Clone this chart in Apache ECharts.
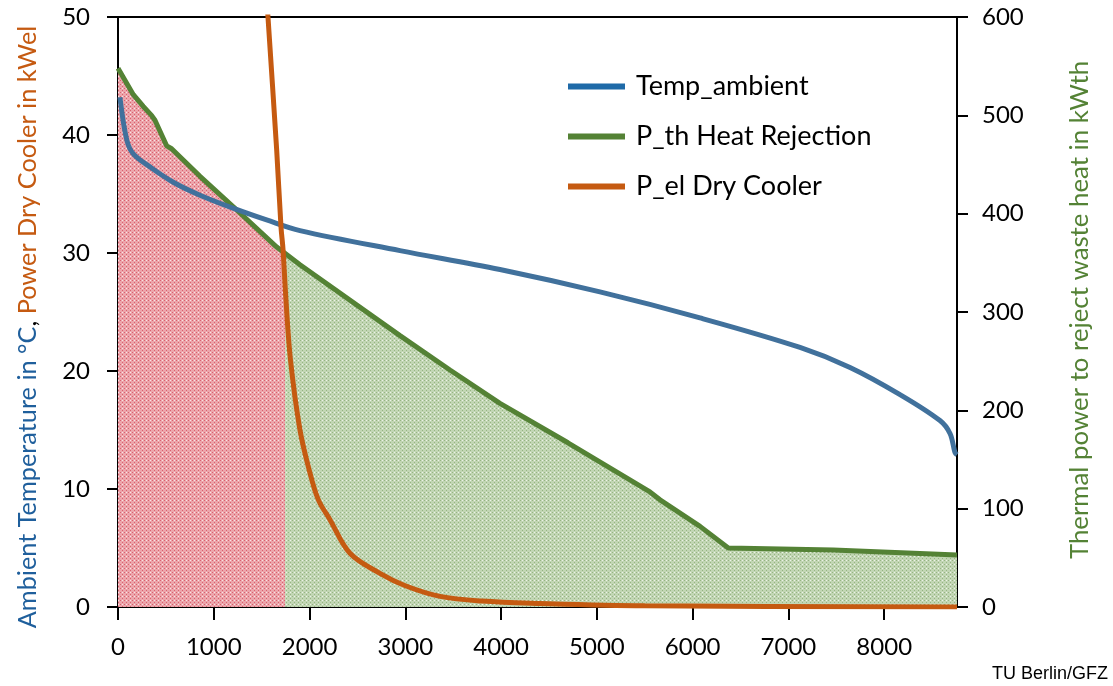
<!DOCTYPE html>
<html>
<head>
<meta charset="utf-8">
<script src="https://cdn.jsdelivr.net/npm/echarts@6/dist/echarts.min.js"></script>
<style>
  html, body { margin: 0; padding: 0; background: #fff; }
  #chart { width: 1113px; height: 686px; }
</style>
</head>
<body>
<div id="chart"></div>
<script>
// hours of the year
var xTicks = [0, 1000, 2000, 3000, 4000, 5000, 6000, 7000, 8000];

// ambient temperature, degC (left axis)
var tempHours = [20, 91, 160, 334, 577, 856, 1201, 1552, 1900, 2944, 3988, 5032, 6077, 7121, 7643, 8165, 8582, 8687, 8739, 8760];
var tempValues = [43.2, 39.6, 38.4, 37.3, 36.0, 34.9, 33.8, 32.8, 31.9, 30.2, 28.6, 26.7, 24.5, 22.0, 20.3, 18.0, 15.8, 14.7, 13.1, 12.9];

// thermal power heat rejection, kWth (right axis)
var pthHours = [0, 160, 264, 350, 386, 508, 560, 856, 1204, 1657, 1900, 2944, 3466, 3988, 4698, 5554, 5659, 6077, 6372, 7468, 8760];
var pthValues = [548, 521, 509, 500, 495, 469, 466, 438, 407, 366, 348, 276, 241, 207, 167, 117, 109, 82, 60, 58, 53];

// electric power dry cooler, kWel (left axis)
var pelHours = [1480, 1566, 1657, 1702, 1723, 1754, 1800, 1900, 2000, 2091, 2213, 2422, 2735, 3000, 3362, 3800, 4406, 5500, 8760];
var pelValues = [61, 50, 38.7, 32.2, 30.3, 26, 21, 15, 11.5, 9.1, 7.4, 4.55, 2.85, 1.8, 0.9, 0.5, 0.3, 0.1, 0];

// where the shading switches from red to green
var splitHour = 1745;
var splitValue = 359;

function pairs(xs, ys) {
    var out = [];
    for (var i = 0; i < xs.length; i++) {
        out.push([xs[i], ys[i]]);
    }
    return out;
}

function hatch(base, dot) {
    var c = document.createElement('canvas');
    c.width = 4; c.height = 4;
    var ctx = c.getContext('2d');
    ctx.fillStyle = base;
    ctx.fillRect(0, 0, 4, 4);
    ctx.fillStyle = dot;
    ctx.fillRect(0, 0, 1, 1);
    ctx.fillRect(2, 2, 1, 1);
    ctx.fillStyle = 'rgba(255,255,255,0.7)';
    ctx.fillRect(2, 0, 1, 1);
    return { image: c, repeat: 'repeat' };
}

var redPart = [];
var greenPart = [[splitHour, splitValue]];
for (var i = 0; i < pthHours.length; i++) {
    if (pthHours[i] < splitHour) redPart.push([pthHours[i], pthValues[i]]);
    else greenPart.push([pthHours[i], pthValues[i]]);
}
redPart.push([splitHour, splitValue]);

var font = 'Lato';
var chart = echarts.init(document.getElementById('chart'));
var option = {
    animation: false,
    backgroundColor: '#ffffff',
    textStyle: { fontFamily: font },
    grid: {
        left: 118, right: 156, top: 17, bottom: 79,
        show: true, borderColor: '#000', borderWidth: 2
    },
    legend: {
        orient: 'vertical',
        left: 563, top: 68,
        itemGap: 23,
        itemWidth: 57, itemHeight: 6,
        icon: 'rect',
        textStyle: { fontSize: 27, lineHeight: 26, color: '#000', fontFamily: font, padding: [0, 0, 0, 6] },
        data: [
            { name: 'Temp_ambient', itemStyle: { color: '#1f6aa8' } },
            { name: 'P_th Heat Rejection', itemStyle: { color: '#548235' } },
            { name: 'P_el Dry Cooler', itemStyle: { color: '#c55a11' } }
        ]
    },
    xAxis: {
        type: 'value',
        min: 0, max: 8760,
        axisLine: { lineStyle: { color: '#000', width: 2 } },
        axisTick: { customValues: xTicks, length: 13, lineStyle: { color: '#000', width: 2 } },
        axisLabel: {
            customValues: xTicks, fontSize: 24, color: '#000', margin: 28, fontFamily: font,
            formatter: function (v) { return String(v); }
        },
        splitLine: { show: false }
    },
    yAxis: [
        {
            type: 'value', min: 0, max: 50, interval: 10,
            axisLine: { show: true, lineStyle: { color: '#000', width: 2 } },
            axisTick: { show: true, length: 11, lineStyle: { color: '#000', width: 2 } },
            axisLabel: { fontSize: 24, color: '#000', margin: 28, fontFamily: font },
            splitLine: { show: false }
        },
        {
            type: 'value', min: 0, max: 600, interval: 100,
            axisLine: { show: true, lineStyle: { color: '#000', width: 2 } },
            axisTick: { show: true, length: 11, lineStyle: { color: '#000', width: 2 } },
            axisLabel: { fontSize: 24, color: '#000', margin: 25, fontFamily: font },
            splitLine: { show: false }
        }
    ],
    graphic: [
        {
            type: 'text', x: 28, y: 327, rotation: Math.PI / 2,
            style: {
                text: '{b|Ambient Temperature in °C}{k|, }{o|Power Dry Cooler in kWel}',
                align: 'center', verticalAlign: 'middle',
                rich: {
                    b: { fill: '#1f5f9c', fontSize: 25.3, fontFamily: font },
                    k: { fill: '#000', fontSize: 25.3, fontFamily: font },
                    o: { fill: '#c55a11', fontSize: 25.3, fontFamily: font }
                }
            }
        },
        {
            type: 'text', x: 1080, y: 310, rotation: Math.PI / 2,
            style: {
                text: 'Thermal power to reject waste heat in kWth',
                align: 'center', verticalAlign: 'middle',
                fill: '#548235', fontSize: 25.8, fontFamily: font
            }
        },
        {
            type: 'text', right: 5, bottom: 3,
            style: { text: 'TU Berlin/GFZ', font: '18px "Liberation Sans"', fill: '#000' }
        }
    ],
    series: [
        {
            name: 'fill_red', type: 'line', yAxisIndex: 1,
            data: redPart, showSymbol: false, silent: true,
            lineStyle: { width: 0 },
            areaStyle: { color: hatch('#eca5ab', '#d9606e'), opacity: 1 }
        },
        {
            name: 'fill_green', type: 'line', yAxisIndex: 1,
            data: greenPart, showSymbol: false, silent: true,
            lineStyle: { width: 0 },
            areaStyle: { color: hatch('#c2d6b4', '#96b482'), opacity: 1 }
        },
        {
            name: 'P_th Heat Rejection', type: 'line', yAxisIndex: 1,
            data: pairs(pthHours, pthValues), showSymbol: false,
            color: '#548235',
            lineStyle: { width: 5, color: '#548235' }
        },
        {
            name: 'Temp_ambient', type: 'line', yAxisIndex: 0,
            data: pairs(tempHours, tempValues), showSymbol: false,
            smooth: 0.35,
            color: '#41719c',
            lineStyle: { width: 5, color: '#41719c' }
        },
        {
            name: 'P_el Dry Cooler', type: 'line', yAxisIndex: 0,
            data: pairs(pelHours, pelValues), showSymbol: false,
            smooth: 0.35,
            color: '#c55a11',
            lineStyle: { width: 5, color: '#c55a11' }
        }
    ]
};
chart.setOption(option);
</script>
</body>
</html>
